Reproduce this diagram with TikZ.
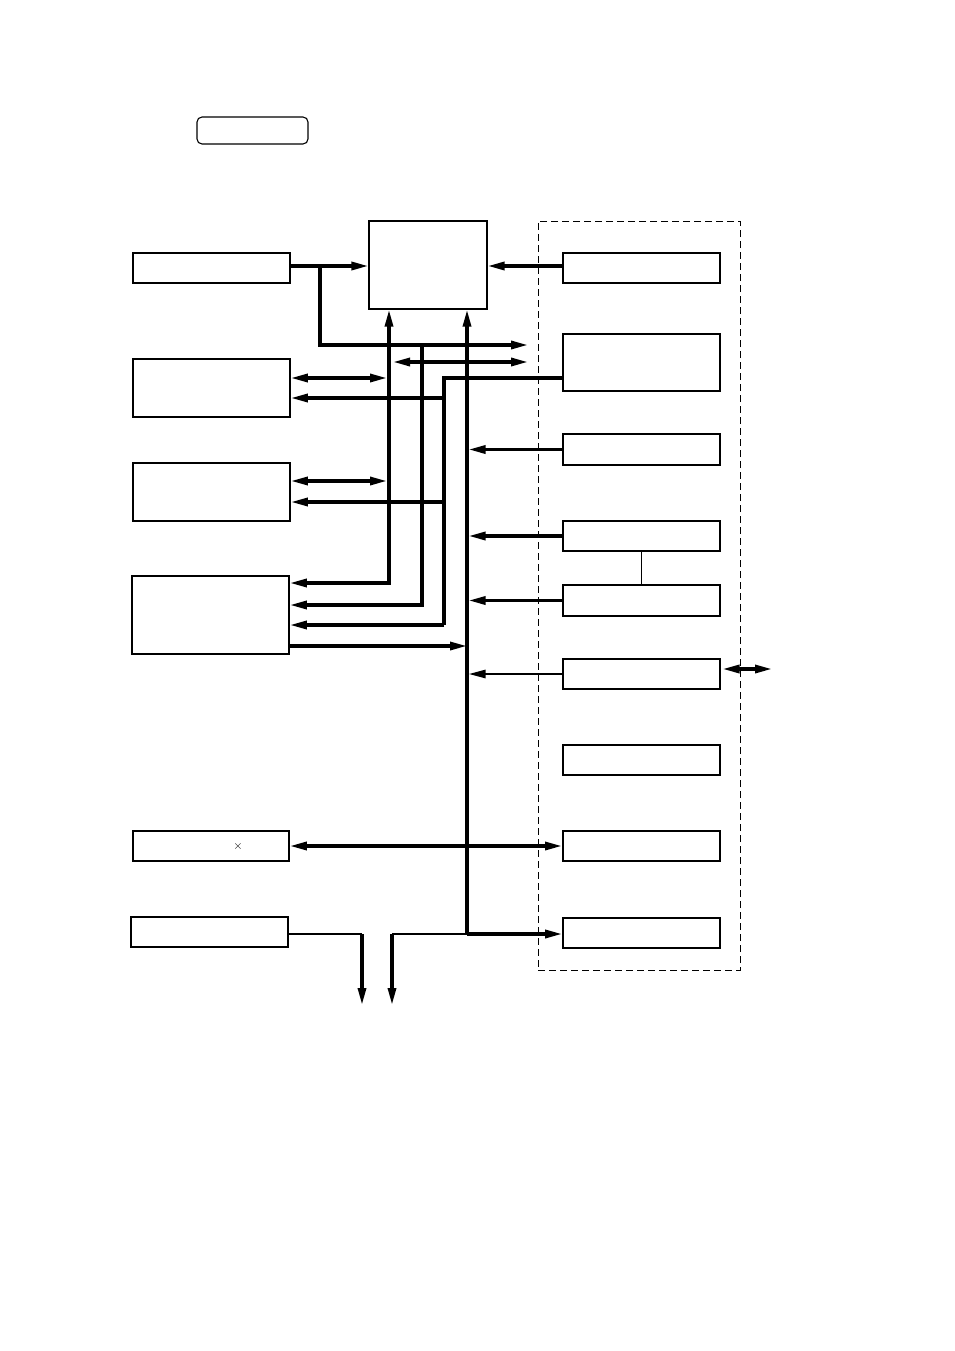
\documentclass[tikz,border=0pt]{standalone}
\usetikzlibrary{arrows.meta}

\tikzstyle{b} = [rectangle, draw, fill=white, line width=1.6pt, minimum width=157pt, minimum height=30pt, inner sep=0pt]
\tikzstyle{tb} = [rectangle, draw, rounded corners=5pt, line width=1.1pt, minimum width=111pt, minimum height=27pt]
\tikzstyle{grp} = [rectangle, draw, dash pattern=on 7pt off 4pt, line width=1pt, minimum width=202pt, minimum height=749pt]
\tikzstyle{bus} = [line width=3.2pt, -{Triangle[length=17pt,width=8pt]}]
\tikzstyle{dbl} = [line width=3.2pt, {Triangle[length=17pt,width=8pt]}-{Triangle[length=17pt,width=8pt]}]
\tikzstyle{wire} = [line width=2.8pt]

\begin{document}
\begin{tikzpicture}[auto, x=1pt, y=-1pt]
\useasboundingbox (0,0) rectangle (954,1351);

\node [tb] (title) at (252.5,130.5) {};
\node [grp] (unit) at (639,595.5) {};

% centre and left column
\node [b, line width=1.2pt, minimum width=118pt, minimum height=88pt] (C) at (428,265) {};
\node [b, line width=2pt] (L1) at (211.5,268) {};
\node [b, minimum height=58pt] (L2) at (211.5,388) {};
\node [b, minimum height=58pt] (L3) at (211.5,492) {};
\node [b, minimum height=78pt] (L4) at (210.5,615) {};
\node [b, minimum width=156pt] (L5) at (211,846) {};
\node [b] (L6) at (209.5,932) {};
\node (mark) at (238,846) {\large$\times$};

% right column
\node [b, line width=2pt] (R1) at (641.5,268) {};
\node [b, minimum height=57pt] (R2) at (641.5,362.5) {};
\node [b, minimum height=31pt] (R3) at (641.5,449.5) {};
\node [b, line width=2pt] (R4) at (641.5,536) {};
\node [b, minimum height=31pt] (R5) at (641.5,600.5) {};
\node [b, line width=2pt] (R6) at (641.5,674) {};
\node [b] (R7) at (641.5,760) {};
\node [b, line width=2pt] (R8) at (641.5,846) {};
\node [b] (R9) at (641.5,933) {};

\coordinate (s1) at (320,266);
\coordinate (e1) at (528,345);
\coordinate (d1) at (393,362);
\coordinate (d2) at (528,362);
\coordinate (k1) at (444,378);
\coordinate (k2) at (444,625);
\coordinate (k3) at (444,398);
\coordinate (k4) at (444,502);
\coordinate (m1) at (389,583);
\coordinate (n1) at (387,378);
\coordinate (n2) at (387,481);
\coordinate (p1) at (422,345);
\coordinate (p2) at (422,605);
\coordinate (q1) at (467,934);
\coordinate (q2) at (392,934);
\coordinate (o2) at (392,1005);
\coordinate (t1) at (467,646);
\coordinate (u1) at (362,934);
\coordinate (u2) at (362,1005);
\coordinate (v1) at (772,669);

\draw [bus] (s1 -| L1.east) -- (s1 -| C.west);
\draw [bus] (s1) |- (e1);
\draw [dbl] (d1) -- (d2);
\draw [bus] (s1 -| R1.west) -- (s1 -| C.east);

\draw [line width=3.2pt] (k1 -| R2.west) -- (k1) -- (k2);
\draw [bus] (k2) -- (k2 -| L4.east);
\draw [bus] (k3) -- (k3 -| L2.east);
\draw [bus] (k4) -- (k4 -| L3.east);

\draw [dbl] (m1 -| L4.east) -- (m1) -- (m1 |- C.south);
\draw [dbl] (n1 -| L2.east) -- (n1);
\draw [dbl] (n2 -| L3.east) -- (n2);
\draw [bus] (p1) -- (p2) -- (p2 -| L4.east);

\draw [bus] (q1) -- (q1 |- C.south);
\draw [bus] (q1) -- (q1 -| R9.west);
\draw [wire] (q1) -- (q2);
\draw [bus] (q2) -- (o2);
\draw [bus, shorten >=1.5pt] (R3.west) -- (R3.west -| q1);
\draw [bus, shorten >=1.5pt] (R4.west) -- (R4.west -| q1);
\draw [bus, shorten >=1.5pt] (R5.west) -- (R5.west -| q1);
\draw [bus, line width=2.6pt, shorten >=1.5pt] (R6.west) -- (R6.west -| q1);
\draw [bus] (t1 -| L4.east) -- (t1);

\draw [dbl] (L5.east) -- (R8.west);
\draw [wire] (u1 -| L6.east) -- (u1);
\draw [bus] (u1) -- (u2);
\draw [line width=1.2pt] (R4) -- (R5);
\draw [dbl, shorten <=1.5pt] (v1 -| R6.east) -- (v1);
\end{tikzpicture}
\end{document}
